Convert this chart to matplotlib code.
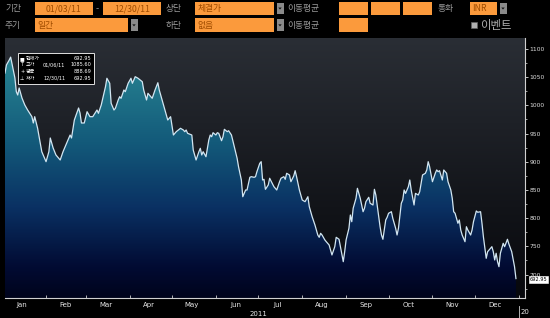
import numpy as np
import pandas as pd
import matplotlib
matplotlib.use('Agg')
import matplotlib.pyplot as plt
import matplotlib.dates as mdates
from matplotlib.colors import LinearSegmentedColormap
from matplotlib.patches import Rectangle

plt.rcParams['font.family'] = ['Noto Sans CJK KR', 'DejaVu Sans']

# ---------------- data ----------------
day_offsets = [2, 3, 5, 6, 9, 10, 11, 12, 14, 16, 18, 21, 22, 23, 25, 28, 29, 31, 33, 34, 36, 38, 41, 43,
               46, 48, 49, 51, 54, 55, 56, 58, 60, 62, 64, 67, 68, 70, 73, 74, 76, 77, 79, 80, 82, 83, 84,
               86, 87, 89, 91, 92, 94, 96, 99, 100, 102, 103, 104, 106, 108, 110, 111, 113, 115, 116, 117,
               119, 121, 123, 126, 128, 129, 130, 131, 134, 135, 137, 139, 140, 141, 142, 144, 146, 147,
               148, 149, 151, 152, 153, 155, 156, 157, 159, 160, 162, 164, 166, 167, 169, 170, 172, 173,
               175, 176, 178, 179, 180, 182, 183, 184, 185, 186, 188, 189, 192, 194, 196, 197, 199, 200,
               201, 203, 204, 206, 207, 208, 210, 212, 214, 216, 217, 219, 221, 223, 224, 225, 226, 228,
               229, 231, 232, 233, 235, 236, 238, 239, 241, 242, 243, 245, 246, 247, 248, 250, 251, 253,
               255, 256, 257, 259, 260, 262, 263, 264, 266, 267, 268, 269, 271, 272, 273, 275, 276, 278,
               279, 280, 282, 283, 284, 285, 287, 288, 289, 291, 292, 294, 295, 297, 299, 300, 301, 302,
               304, 306, 307, 308, 309, 311, 312, 314, 315, 317, 318, 319, 320, 322, 323, 324, 325, 327,
               328, 329, 331, 332, 333, 335, 336, 338, 339, 340, 342, 343, 344, 346, 347, 348, 349, 350,
               351, 352, 354, 355, 357, 358, 360, 362, 363]
prices = [1057.4, 1071.6, 1080.5, 1085.6, 1048.6, 1024.3, 1018.4, 1030.9, 1013.1, 1000.7, 991.8, 980.0,
          968.8, 980.0, 959.9, 917.9, 912.1, 900.2, 917.9, 942.2, 924.5, 912.1, 903.2, 917.9, 935.6, 947.5,
          942.2, 974.1, 995.4, 986.5, 968.8, 968.8, 988.8, 980.0, 980.0, 991.8, 986.0, 1000.7, 1033.2,
          1048.1, 1039.2, 1003.7, 991.8, 994.9, 1009.6, 1015.4, 1012.6, 1027.3, 1024.3, 1039.2, 1048.1,
          1039.2, 1050.9, 1048.1, 1042.0, 1027.3, 1009.6, 1021.5, 1018.4, 1012.6, 1027.3, 1040.2, 1027.3,
          1009.6, 991.8, 983.0, 974.1, 980.0, 947.5, 953.4, 959.4, 956.4, 953.4, 956.4, 950.5, 947.5, 920.9,
          903.2, 917.9, 923.9, 912.1, 917.9, 909.0, 938.7, 947.5, 944.5, 951.6, 947.5, 951.6, 950.5, 937.4,
          944.5, 957.6, 953.4, 955.1, 947.5, 926.8, 906.2, 891.3, 867.7, 838.1, 850.0, 850.0, 872.5, 873.6,
          872.5, 873.6, 882.5, 897.3, 900.2, 867.7, 868.9, 851.2, 858.9, 870.8, 855.9, 850.0, 864.7, 870.8,
          873.6, 868.9, 879.6, 876.6, 864.7, 874.8, 884.2, 873.6, 850.0, 832.3, 829.3, 838.1, 820.4, 802.7,
          787.9, 770.2, 766.1, 773.2, 770.2, 761.4, 758.3, 752.5, 743.6, 734.8, 749.5, 766.1, 762.6, 749.5,
          722.9, 740.6, 761.4, 782.1, 805.7, 793.8, 817.6, 835.3, 853.0, 835.3, 811.5, 817.6, 829.3, 837.1,
          826.4, 823.4, 851.2, 841.1, 802.7, 784.9, 770.2, 762.6, 796.8, 801.6, 808.7, 811.5, 799.7, 782.1,
          770.2, 782.1, 826.4, 832.3, 850.0, 844.0, 855.9, 867.7, 850.0, 823.4, 844.0, 841.1, 847.0, 876.6,
          879.6, 885.5, 900.2, 891.3, 864.7, 879.6, 885.5, 882.5, 884.2, 867.7, 885.5, 879.6, 864.7, 850.0,
          835.3, 811.5, 808.7, 791.0, 796.8, 779.1, 770.2, 758.3, 784.9, 779.1, 770.2, 779.1, 793.8, 812.8,
          810.5, 811.5, 791.0, 767.2, 728.9, 740.6, 743.6, 749.5, 740.6, 725.9, 737.8, 722.9, 714.0, 737.8,
          755.5, 749.5, 762.6, 754.3, 740.6, 714.0, 692.95]
month_labels = ['Jan', 'Feb', 'Mar', 'Apr', 'May', 'Jun', 'Jul', 'Aug', 'Sep', 'Oct', 'Nov', 'Dec']
y_ticks = [700, 750, 800, 850, 900, 950, 1000, 1050, 1100]
legend_names = ['현재가', '고가', '평균', '저가']
legend_dates = ['', '01/06/11', '', '12/30/11']
legend_values = ['692.95', '1085.60', '888.69', '692.95']
last_price_label = '692.95'

row1_labels = ['기간', '상단', '이동평균', '통화']
row2_labels = ['주기', '하단', '이동평균']
start_text, end_text = '01/03/11', '12/30/11'
upper_choice, lower_choice, period_choice, currency = '체결가', '없음', '일간', 'INR'
event_label = '이벤트'

start = pd.Timestamp('2011-01-01')
dates = start + pd.to_timedelta(day_offsets, unit='D')
xnum = mdates.date2num(dates)

# ---------------- figure ----------------
W, H = 550, 318
fig = plt.figure(figsize=(5.5, 3.18), dpi=100, facecolor='black')

# background / header axes in pixel coordinates
bg = fig.add_axes([0, 0, 1, 1], zorder=0)
bg.set_xlim(0, W)
bg.set_ylim(H, 0)
bg.axis('off')
bg.add_patch(Rectangle((0, 0), W, H, color='black'))

label_col = '#9a9a9a'
box_col = '#fb9a3c'
box_txt = '#a04c00'

def box(x0, x1, y0, y1, text='', align='center'):
    bg.add_patch(Rectangle((x0, y0), x1 - x0, y1 - y0, color=box_col, lw=0))
    if text:
        if align == 'center':
            bg.text((x0 + x1) / 2, (y0 + y1) / 2 + 0.5, text, color=box_txt, fontsize=6.3,
                    ha='center', va='center')
        else:
            bg.text(x0 + 2.5, (y0 + y1) / 2 + 0.5, text, color=box_txt, fontsize=6.3,
                    ha='left', va='center')

def dropdown(x0, y0, y1):
    bg.add_patch(Rectangle((x0, y0 + 1), 7, (y1 - y0) - 2, color='#8a8a8a', lw=0))
    cy = (y0 + y1) / 2
    bg.fill([x0 + 1.8, x0 + 5.2, x0 + 3.5], [cy - 0.8, cy - 0.8, cy + 1.2], color='#111111', lw=0)

r1 = (1.7, 15.0)
r2 = (18.3, 32.0)
# row 1
bg.text(5, 8.6, row1_labels[0], color=label_col, fontsize=6.3, va='center')
box(35, 92.5, *r1, start_text)
bg.text(97.5, 8.6, '-', color=label_col, fontsize=6.5, va='center', ha='center')
box(102.7, 161, *r1, end_text)
bg.text(166, 8.6, row1_labels[1], color=label_col, fontsize=6.3, va='center')
box(195, 274, *r1, upper_choice, align='left')
dropdown(276.5, *r1)
bg.text(287, 8.6, row1_labels[2], color=label_col, fontsize=6.3, va='center')
box(339, 368.3, *r1)
box(371, 400, *r1)
box(403, 432.3, *r1)
bg.text(437.5, 8.6, row1_labels[3], color=label_col, fontsize=6.3, va='center')
box(470, 497, *r1, currency, align='left')
dropdown(499.5, *r1)
# row 2
bg.text(5, 25.4, row2_labels[0], color=label_col, fontsize=6.3, va='center')
box(35, 128.3, *r2, period_choice, align='left')
dropdown(130.5, *r2)
bg.text(166, 25.4, row2_labels[1], color=label_col, fontsize=6.3, va='center')
box(195, 274, *r2, lower_choice, align='left')
dropdown(276.5, *r2)
bg.text(287, 25.4, row2_labels[2], color=label_col, fontsize=6.3, va='center')
box(339, 368.3, *r2)
bg.add_patch(Rectangle((471, 22), 6, 5.5, facecolor='#b0b0b0', edgecolor='#606060', lw=0.5))
bg.text(480, 25.2, event_label, color='#b0b0b0', fontsize=8.2, va='center')

# ---------------- main plot ----------------
left_px, right_px, top_px, bot_px = 4.5, 525, 38, 298
ax = fig.add_axes([left_px / W, (H - bot_px) / H, (right_px - left_px) / W, (bot_px - top_px) / H],
                  zorder=1)
x0 = mdates.date2num(start + pd.Timedelta(days=1.65))
x1 = mdates.date2num(start + pd.Timedelta(days=369.4))
y0, y1 = 658.5, 1119.5
ax.set_xlim(x0, x1)
ax.set_ylim(y0, y1)

bg_cmap = LinearSegmentedColormap.from_list('bgc', [(0, '#07080c'), (0.35, '#121419'), (1, '#2a2e35')])
fill_cmap = LinearSegmentedColormap.from_list('fc', [(0, '#00041c'), (0.12, '#020b33'), (0.35, '#0a3163'),
                                                    (0.6, '#135a7a'), (0.85, '#237b8d'), (1, '#2e909c')])
grad = np.linspace(0, 1, 256).reshape(-1, 1)
ax.imshow(grad, extent=[x0, x1, y0, y1], origin='lower', aspect='auto', cmap=bg_cmap, zorder=0)
fill = ax.fill_between(xnum, prices, y0, facecolor='none', edgecolor='none')
im = ax.imshow(grad, extent=[x0, x1, y0, y1], origin='lower', aspect='auto', cmap=fill_cmap, zorder=1)
im.set_clip_path(fill.get_paths()[0], transform=ax.transData)
ax.plot(xnum, prices, color='#d2e6f2', lw=0.9, zorder=3)
ax.set_xlim(x0, x1)
ax.set_ylim(y0, y1)

for s in ['top', 'left']:
    ax.spines[s].set_visible(False)
ax.spines['bottom'].set_color('#d0d0d0')
ax.spines['right'].set_color('#d0d0d0')
ax.spines['bottom'].set_linewidth(0.8)
ax.spines['right'].set_linewidth(0.8)

ax.yaxis.tick_right()
ax.set_yticks(y_ticks)
ax.set_yticklabels([str(v) for v in y_ticks])
ax.set_yticks(np.arange(675, 1125, 50), minor=True)
ax.tick_params(axis='y', which='major', colors='#e0e0e0', labelsize=4.3, length=2.2, width=0.6,
               pad=1.2, direction='out')
ax.tick_params(axis='y', which='minor', colors='#e0e0e0', length=1.2, width=0.5, direction='out')
for t in ax.get_yticklabels():
    t.set_fontfamily('DejaVu Sans')

ax.xaxis.set_major_locator(mdates.MonthLocator())
ax.xaxis.set_major_formatter(plt.NullFormatter())
ax.xaxis.set_minor_locator(mdates.MonthLocator(bymonthday=15))
ax.xaxis.set_minor_formatter(plt.FuncFormatter(lambda v, p: month_labels[mdates.num2date(v).month - 1]))
ax.tick_params(axis='x', which='major', colors='#d0d0d0', length=2, width=0.6, direction='in')
ax.tick_params(axis='x', which='minor', colors='#e8e8e8', length=0, labelsize=5, pad=3.2)
for t in ax.xaxis.get_minorticklabels():
    t.set_fontfamily('DejaVu Sans')

xt = ax.get_xaxis_transform()
ax.text(mdates.date2num(pd.Timestamp('2011-07-01')), -0.06, '2011', transform=xt, color='#e8e8e8',
        fontsize=5, ha='center', va='center', family='DejaVu Sans', clip_on=False)
x2012 = mdates.date2num(pd.Timestamp('2012-01-01'))
ax.plot([x2012, x2012], [-0.03, -0.075], transform=xt, color='#d0d0d0', lw=0.6, clip_on=False)
ax.text(x2012 + 1.5, -0.052, '20', transform=xt, color='#e8e8e8', fontsize=5, ha='left',
        va='center', family='DejaVu Sans', clip_on=False)

# info panel
ax_info = fig.add_axes([0, 0, 1, 1], zorder=2)
ax_info.set_xlim(0, W)
ax_info.set_ylim(H, 0)
ax_info.axis('off')
ax_info.patch.set_alpha(0)
ax_info.add_patch(Rectangle((17.5, 52.5), 76, 31.5, facecolor='black', edgecolor='#e0e0e0', lw=0.7))
icons = ['■', 'T', '+', '⊥']
rows_y = [58.3, 65.0, 71.7, 78.4]
for ic, nm, dt, val, yy in zip(icons, legend_names, legend_dates, legend_values, rows_y):
    ax_info.text(20, yy, ic, color='white', fontsize=3.6, va='center', ha='left', family='DejaVu Sans')
    ax_info.text(25.5, yy, nm, color='white', fontsize=3.6, va='center', ha='left')
    if dt:
        ax_info.text(43, yy, dt, color='white', fontsize=3.6, va='center', ha='left', family='DejaVu Sans')
    ax_info.text(91.5, yy, val, color='white', fontsize=3.6, va='center', ha='right', family='DejaVu Sans')

# last-price tag
ax_info.text(538.5, 279.5, last_price_label, color='black', fontsize=3.6, va='center', ha='center',
             family='DejaVu Sans',
             bbox=dict(boxstyle='square,pad=0.2', facecolor='white', edgecolor='white', lw=0.4))

fig.savefig('out.png', dpi=100, facecolor='black')
